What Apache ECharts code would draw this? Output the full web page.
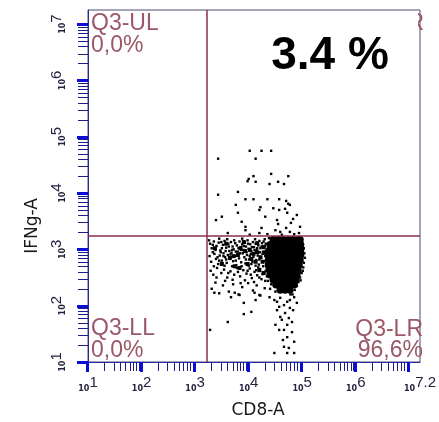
<!DOCTYPE html>
<html>
<head>
<meta charset="utf-8">
<script src="https://cdn.jsdelivr.net/npm/echarts@6/dist/echarts.min.js"></script>
<style>
  html, body { margin: 0; padding: 0; background: #ffffff; }
  #chart { width: 439px; height: 422px; }
</style>
</head>
<body>
<div id="chart"></div>
<script>
// Axis ranges in decades (log10 of fluorescence intensity)
const cd8Range = [1, 7.2];
const ifngRange = [1, 7.25];

// Decade tick labels (exponent of 10)
const cd8Labels = [1, 2, 3, 4, 5, 6, 7.2];
const ifngLabels = [1, 2, 3, 4, 5, 6, 7];
const minorSteps = [2, 3, 4, 5, 6, 7, 8, 9];

// Quadrant gate position (log10 units)
const gateCD8 = 3.21;
const gateIFNg = 3.24;

// Quadrant annotations
const quadrantNames = ['Q3-UL', 'Q3-UR', 'Q3-LL', 'Q3-LR'];
const quadrantPct = ['0,0%', '3,4%', '0,0%', '96,6%'];
const highlightText = '3.4 %';

// Events: [log10 CD8, log10 IFNg]
// CD8+ IFNg+ events (upper right)
const upperRight = [
  [4.02,4.75],[4.24,4.75],[4.42,4.75],[3.43,4.61],[4.13,4.61],[4.42,4.34],[4.09,4.30],
  [4.00,4.25],[3.98,4.21],[4.13,4.20],[4.74,4.30],[4.39,4.16],[4.55,4.20],[4.66,4.16],
  [3.80,4.02],[3.43,3.97],[3.94,3.89],[4.09,3.89],[4.35,3.89],[4.57,3.89],[4.70,3.86],
  [4.74,3.81],[4.77,3.79],[3.76,3.79],[4.22,3.75],[4.20,3.70],[4.46,3.73],[4.57,3.70],
  [4.68,3.72],[4.72,3.65],[3.80,3.65],[3.50,3.58],[3.39,3.52],[4.31,3.58],[3.87,3.49],
  [4.53,3.52],[4.83,3.54],[4.55,3.45],[4.90,3.61],[3.94,3.40],[3.94,3.34],[4.24,3.38],
  [4.70,3.38],[4.79,3.47],[4.96,3.40],[4.20,3.29],[4.02,3.26],[4.59,3.31],[4.77,3.31],
  [4.94,3.29],[4.35,3.27],[4.62,3.26],[4.85,3.27],[3.61,3.29],[4.50,3.34]
];

// CD8 dim shoulder (lower right, left part)
const shoulder = [
  [3.28,3.10],[3.31,3.02],[3.35,3.14],[3.40,3.06],[3.44,3.12],[3.47,2.98],[3.52,3.08],
  [3.55,3.15],[3.58,3.03],[3.62,3.10],[3.64,2.97],[3.67,3.13],[3.70,3.05],[3.72,3.00],
  [3.75,3.11],[3.78,3.07],[3.80,2.96],[3.83,3.14],[3.85,3.04],[3.88,3.09],[3.90,2.99],
  [3.93,3.12],[3.95,3.05],[3.98,3.16],[4.00,3.01],[4.03,3.09],[4.05,2.97],[4.08,3.13],
  [4.10,3.04],[4.13,3.10],[4.15,2.99],[4.18,3.07],[4.20,3.15],[4.22,3.02],[4.25,3.11],
  [4.27,2.96],[4.30,3.06],[3.60,3.18],[3.88,3.19],[4.12,3.18],[3.45,3.19],[3.33,2.95],
  [3.27,2.88],[3.30,2.78],[3.36,2.92],[3.39,2.83],[3.43,2.74],[3.46,2.89],[3.50,2.80],
  [3.53,2.93],[3.56,2.86],[3.59,2.76],[3.61,2.90],[3.65,2.83],[3.68,2.94],[3.71,2.79],
  [3.74,2.88],[3.77,2.72],[3.79,2.91],[3.82,2.84],[3.86,2.77],[3.89,2.93],[3.92,2.86],
  [3.94,2.75],[3.97,2.90],[4.01,2.82],[4.04,2.92],[4.07,2.78],[4.09,2.87],[4.12,2.94],
  [4.14,2.81],[4.17,2.89],[4.19,2.73],[4.23,2.85],[4.26,2.92],[4.28,2.79],[4.31,2.88],
  [4.33,2.74],[3.55,2.71],[3.84,2.93],[4.00,2.71],[3.48,2.95],
  [3.29,2.62],[3.34,2.55],[3.41,2.67],[3.49,2.58],[3.54,2.64],[3.60,2.50],[3.66,2.61],
  [3.73,2.55],[3.78,2.67],[3.84,2.52],[3.90,2.63],[3.96,2.57],[4.02,2.66],[4.06,2.49],
  [4.11,2.60],[4.16,2.54],[4.21,2.65],[4.24,2.47],[4.29,2.58],[4.34,2.52],[3.70,2.46],
  [3.93,2.45],[4.18,2.68],
  [3.31,2.30],[3.38,2.41],[3.52,2.36],[3.63,2.25],[3.71,2.38],[3.81,2.20],[3.88,2.33],
  [3.99,2.40],[4.08,2.27],[4.15,2.36],[4.22,2.18],[4.30,2.31],[3.45,2.22],
  [3.26,3.16],[3.33,3.08],[3.38,2.99],[3.42,2.86],[3.50,3.02],[3.53,2.88],[3.57,2.97],
  [3.63,3.05],[3.66,2.91],[3.69,2.99],[3.73,3.16],[3.76,2.96],[3.81,3.02],[3.86,2.99],
  [3.91,3.06],[3.96,2.95],[3.99,3.10],[4.02,2.88],[4.06,3.04],[4.11,2.99],[4.16,3.02],
  [4.21,2.95],[4.24,3.05],[4.28,3.14],[4.32,3.10],[3.35,2.70],[3.45,2.80],[3.58,2.82],
  [3.69,2.70],[3.76,2.80],[3.87,2.70],[3.95,2.82],[4.05,2.74],[4.13,2.71],[4.20,2.82],
  [4.27,2.70],[4.32,2.62],[3.62,2.58],[3.80,2.60],[3.98,2.62],[4.14,2.63],[4.26,2.56],
  [3.40,2.50],[3.56,2.44],[4.04,2.55],[4.20,2.50],[4.31,2.44],[3.85,2.40],[4.10,2.42],
  [3.49,3.13]
];

// Tight clumps inside the shoulder
const shoulderClumps = [
  [3.37,3.02],[3.65,2.85],[3.72,2.88],[3.85,3.02],[3.93,2.97],[4.02,2.99],[4.09,2.92],
  [4.16,2.95],[4.22,2.86],[4.05,2.83],[4.13,2.78],[4.26,2.78],[3.98,2.74],[3.74,2.70],
  [3.83,2.67],[4.20,2.63],[4.28,2.58],[3.50,2.74],[3.58,3.10],[3.91,3.13],[4.16,3.11],
  [4.28,3.04],[4.31,2.94],[3.80,2.90]
];

// Edge of the bright CD8+ population
const coreEdge = [
  [4.30,3.18],[4.38,3.20],[4.45,3.21],[4.55,3.20],[4.66,3.21],[4.76,3.19],[4.85,3.20],
  [4.93,3.17],[5.00,3.10],[5.03,3.02],[5.04,2.93],[5.05,2.85],[5.03,2.76],[5.02,2.68],
  [4.99,2.58],[4.96,2.50],[4.93,2.42],[4.90,2.35],[4.86,2.28],[4.82,2.20],[4.78,2.20],
  [4.34,2.65],[4.32,2.98],[4.36,2.44],[4.97,2.45],[5.01,2.62],[4.95,3.20],[4.40,2.30],
  [4.42,2.38],[4.50,2.25]
];

// Low IFNg tail
const lowTail = [
  [3.36,2.23],[3.61,1.71],[3.91,2.05],[3.91,1.85],[4.05,1.89],[3.28,1.57],[4.53,1.92],
  [4.59,1.80],[4.68,1.87],[4.81,1.71],[4.72,1.66],[4.57,1.57],[4.66,1.57],[4.81,1.53],
  [4.72,1.44],[4.85,1.36],[4.66,1.27],[4.48,1.16],[4.72,1.16],[4.85,1.16],[4.39,2.15],
  [4.48,2.10],[4.59,2.14],[4.72,2.07],[4.85,2.15],[4.90,2.05],[4.66,2.01],[4.77,1.96],
  [4.57,1.98],[4.20,2.19],[4.11,2.23],[3.83,2.19],[3.74,2.23],[3.67,2.15],[4.13,2.10],
  [4.62,1.75],[4.75,1.78],[4.50,1.66],[4.77,2.10],[4.53,2.07],[4.83,1.92],[4.64,1.39],
  [4.75,1.25]
];

// Dense core of the bright CD8+ population
const core = [
  [4.46,3.17],[4.55,3.17],[4.64,3.17],[4.74,3.17],[4.83,3.17],[4.92,3.17],[4.96,3.17],
  [4.40,3.08],[4.50,3.08],[4.59,3.08],[4.68,3.08],[4.77,3.08],[4.86,3.08],[4.97,3.08],
  [4.39,2.99],[4.48,2.99],[4.57,2.99],[4.66,2.99],[4.75,2.99],[4.85,2.99],[4.94,2.99],[4.97,2.99],
  [4.37,2.90],[4.46,2.90],[4.55,2.90],[4.64,2.90],[4.74,2.90],[4.83,2.90],[4.92,2.90],[4.97,2.90],
  [4.37,2.81],[4.46,2.81],[4.55,2.81],[4.64,2.81],[4.74,2.81],[4.83,2.81],[4.92,2.81],[4.96,2.81],
  [4.37,2.72],[4.46,2.72],[4.55,2.72],[4.64,2.72],[4.74,2.72],[4.83,2.72],[4.94,2.72],
  [4.39,2.63],[4.48,2.63],[4.57,2.63],[4.66,2.63],[4.75,2.63],[4.85,2.63],[4.92,2.63],
  [4.40,2.55],[4.50,2.55],[4.59,2.55],[4.68,2.55],[4.77,2.55],[4.86,2.55],[4.90,2.55],
  [4.46,2.46],[4.55,2.46],[4.64,2.46],[4.74,2.46],[4.83,2.46],[4.88,2.46],
  [4.51,2.37],[4.61,2.37],[4.70,2.37],[4.79,2.37],[4.85,2.37],
  [4.59,2.28],[4.68,2.28],[4.77,2.28]
];

const events = upperRight.concat(shoulder, coreEdge, lowTail);

// Axis tick positions: decades and the log-spaced minor steps between them
function tickList(range) {
  const list = [];
  for (let d = Math.ceil(range[0]); d <= Math.floor(range[1]); d++) {
    list.push([d, 1]);
    minorSteps.forEach(function (m) {
      const v = d + Math.log10(m);
      if (v <= range[1]) list.push([v, 0]);
    });
  }
  return list;
}
const xTicks = tickList(cd8Range).map(function (t) { return [t[0], ifngRange[0], t[1]]; });
const yTicks = tickList(ifngRange).map(function (t) { return [cd8Range[0], t[0], t[1]]; });

const TICK_MAJOR = '#0c0cd4';
const TICK_MINOR = '#1d1d88';
const LABEL_COLOR = '#23233f';
const QUAD_COLOR = '#9a5868';
const QUAD_FONT = '23px "Liberation Sans"';

function decadeFormatter(list) {
  return function (v) {
    const hit = list.find(function (d) { return Math.abs(d - v) < 1e-6; });
    if (hit === undefined) return '';
    return '{d|10}{e|' + hit + '}';
  };
}
const labelRich = {
  d: { fontSize: 8, fontFamily: 'DejaVu Sans', fontWeight: 'bold', color: LABEL_COLOR, verticalAlign: 'bottom', lineHeight: 16 },
  e: { fontSize: 15, fontFamily: 'Liberation Sans', color: LABEL_COLOR, verticalAlign: 'bottom', lineHeight: 16, padding: [0, 0, 3, 0] }
};

function quadText(x, y, text, align) {
  return {
    type: 'text', x: x, y: y, z: 100,
    style: { text: text, font: QUAD_FONT, fill: QUAD_COLOR, align: align, verticalAlign: 'middle', textAlign: align, textVerticalAlign: 'middle' }
  };
}

const chart = echarts.init(document.getElementById('chart'), null, { renderer: 'canvas' });

chart.setOption({
  animation: false,
  backgroundColor: '#ffffff',
  grid: {
    left: 88, top: 10, right: 14, bottom: 60,
    show: true, borderColor: '#4a4a78', borderWidth: 1, backgroundColor: '#ffffff'
  },
  xAxis: {
    type: 'value', min: cd8Range[0], max: cd8Range[1], interval: 1,
    axisLine: { show: true, lineStyle: { color: '#2a2a9a', width: 1 } },
    axisTick: { show: false },
    splitLine: { show: false },
    axisLabel: {
      margin: 15, showMaxLabel: true, showMinLabel: true,
      formatter: decadeFormatter(cd8Labels), rich: labelRich
    }
  },
  yAxis: {
    type: 'value', min: ifngRange[0], max: ifngRange[1], interval: 1,
    axisLine: { show: true, lineStyle: { color: '#2a2a9a', width: 1 } },
    axisTick: { show: false },
    splitLine: { show: false },
    axisLabel: {
      margin: 21, rotate: 90, showMaxLabel: true, showMinLabel: true,
      formatter: decadeFormatter(ifngLabels), rich: labelRich
    }
  },
  series: [
    {
      type: 'scatter', name: 'events', data: events,
      symbol: 'rect', symbolSize: 2.4,
      itemStyle: { color: '#000000', opacity: 1 },
      silent: true, z: 3,
      markLine: {
        silent: true, symbol: ['none', 'none'], animation: false,
        label: { show: false },
        lineStyle: { color: '#8c2f48', width: 1.5, type: 'solid', opacity: 1 },
        data: [{ xAxis: gateCD8 }, { yAxis: gateIFNg }]
      }
    },
    {
      type: 'scatter', name: 'clumps', data: shoulderClumps,
      symbol: 'rect', symbolSize: 4,
      itemStyle: { color: '#000000', opacity: 1 },
      silent: true, z: 3
    },
    {
      type: 'scatter', name: 'core', data: core,
      symbol: 'circle', symbolSize: 7.5,
      itemStyle: { color: '#000000', opacity: 1 },
      silent: true, z: 4
    },
    {
      type: 'custom', name: 'cd8Ticks', data: xTicks, clip: false, silent: true, z: 6,
      renderItem: function (params, api) {
        const p = api.coord([api.value(0), api.value(1)]);
        const x = Math.round(p[0]);
        if (api.value(2)) {
          return { type: 'rect', shape: { x: x - 2, y: p[1], width: 3, height: 10 }, style: { fill: TICK_MAJOR } };
        }
        return { type: 'line', shape: { x1: x + 0.5, y1: p[1], x2: x + 0.5, y2: p[1] + 9 }, style: { stroke: TICK_MINOR, lineWidth: 1 } };
      }
    },
    {
      type: 'custom', name: 'ifngTicks', data: yTicks, clip: false, silent: true, z: 6,
      renderItem: function (params, api) {
        const p = api.coord([api.value(0), api.value(1)]);
        const y = Math.round(p[1]);
        if (api.value(2)) {
          return { type: 'rect', shape: { x: p[0] - 11, y: y - 1, width: 11, height: 3 }, style: { fill: TICK_MAJOR } };
        }
        return { type: 'line', shape: { x1: p[0], y1: y + 0.5, x2: p[0] - 10, y2: y + 0.5 }, style: { stroke: TICK_MINOR, lineWidth: 1 } };
      }
    }
  ],
  graphic: [
    quadText(91, 24, quadrantNames[0], 'left'),
    quadText(91, 46, quadrantPct[0], 'left'),
    quadText(424, 24, quadrantNames[1], 'right'),
    quadText(91, 329, quadrantNames[2], 'left'),
    quadText(91, 351, quadrantPct[2], 'left'),
    quadText(423, 330, quadrantNames[3], 'right'),
    quadText(423, 351, quadrantPct[3], 'right'),
    { type: 'rect', z: 101, shape: { x: 226, y: 12, width: 192, height: 88 }, style: { fill: '#ffffff' } },
    { type: 'text', x: 330, y: 56, z: 102, style: { text: highlightText, font: 'bold 46px "Liberation Sans"', fill: '#000000', align: 'center', verticalAlign: 'middle', textAlign: 'center', textVerticalAlign: 'middle' } },
    { type: 'text', x: 258, y: 411, z: 100, style: { text: 'CD8-A', font: '17px "DejaVu Sans"', fill: '#1a1a1a', align: 'center', verticalAlign: 'middle', textAlign: 'center', textVerticalAlign: 'middle' } },
    { type: 'text', x: 33, y: 226, z: 100, rotation: Math.PI / 2, style: { text: 'IFNg-A', font: '17px "DejaVu Sans"', fill: '#1a1a1a', align: 'center', verticalAlign: 'middle', textAlign: 'center', textVerticalAlign: 'middle' } }
  ]
});
</script>
</body>
</html>
